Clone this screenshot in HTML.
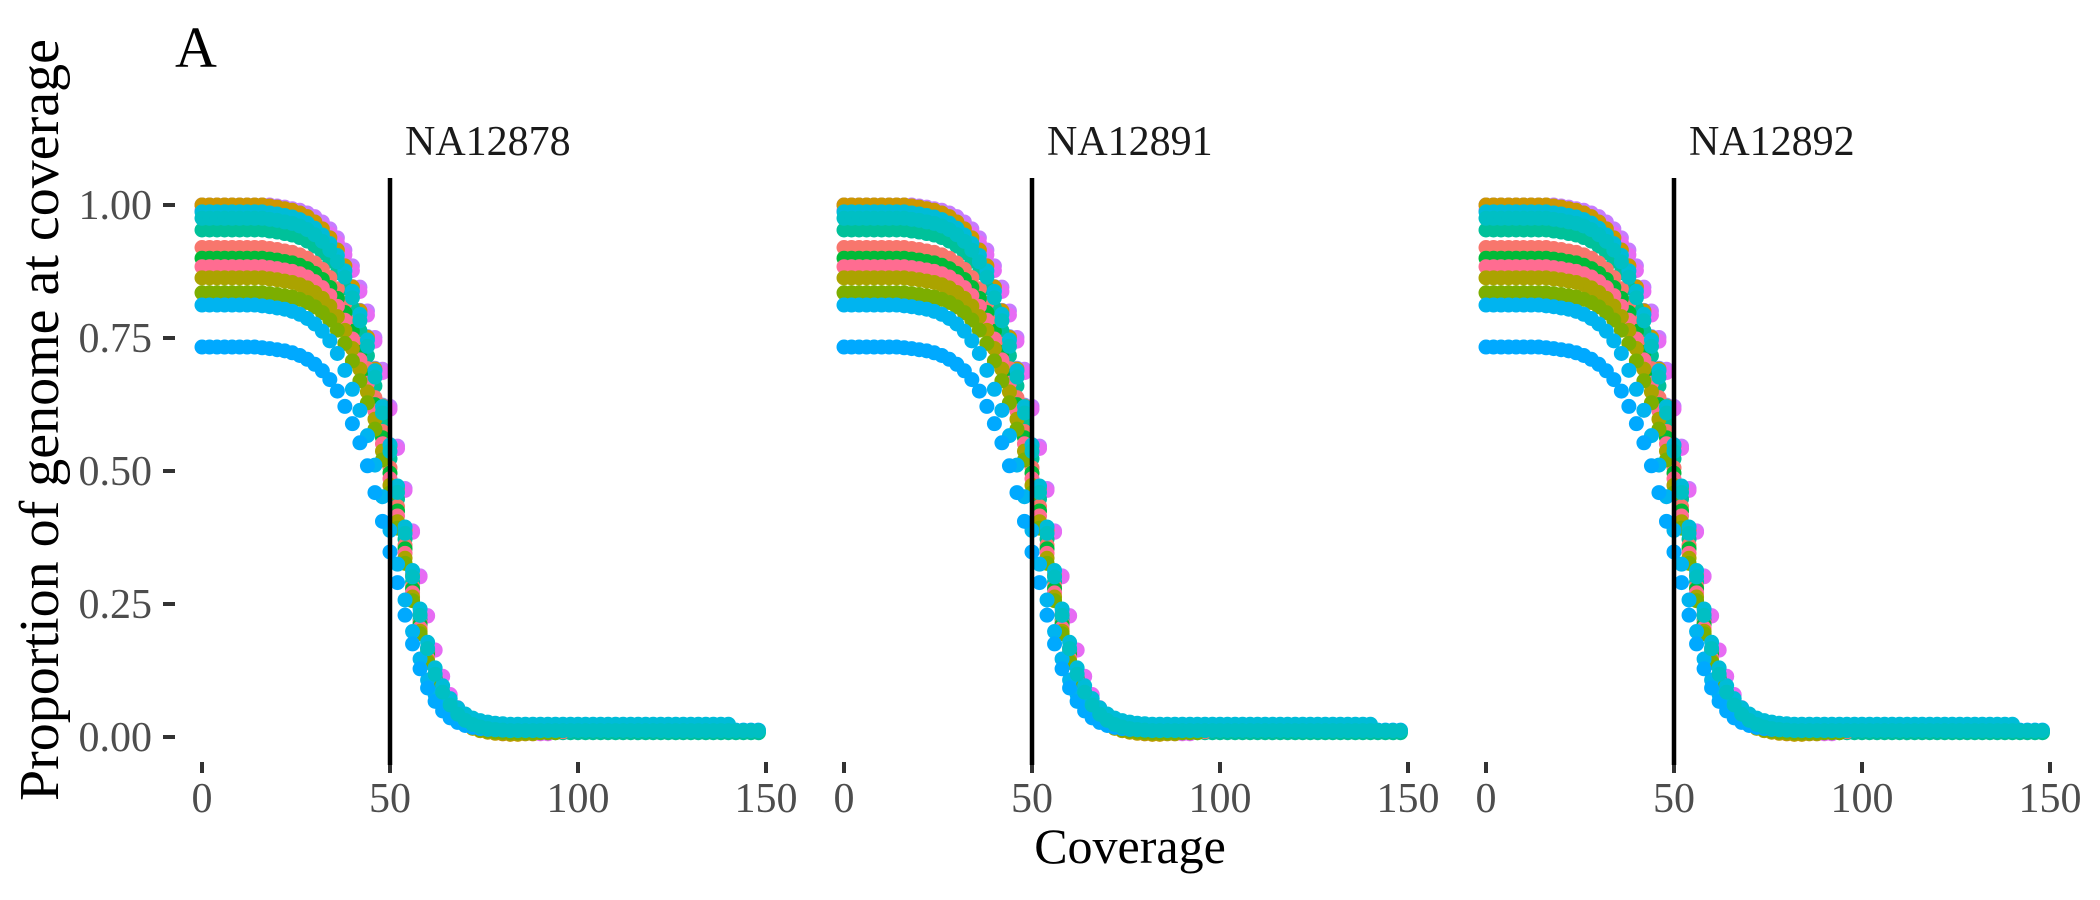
<!DOCTYPE html>
<html><head><meta charset="utf-8">
<style>
html,body{margin:0;padding:0;background:#fff;}
svg{display:block;font-family:"Liberation Serif",serif;}
</style></head>
<body>
<svg id="chart" width="2100" height="900" viewBox="0 0 2100 900">
<text x="175" y="67" font-size="58" fill="#000">A</text>
<text transform="translate(58,420) rotate(-90)" text-anchor="middle" font-size="56" fill="#000">Proportion of genome at coverage</text>
<text x="1130" y="863" text-anchor="middle" font-size="50" fill="#000">Coverage</text>
<g id="panels"></g>
</svg>
<script>
const panelNames = ["NA12878","NA12891","NA12892"];
const xTicks = [0,50,100,150];
const yTicks = [0,0.25,0.5,0.75,1.0];
const yTickLabels = ["0.00","0.25","0.50","0.75","1.00"];
const threshold = 50;
// base curve shape (fraction of plateau) at coverage 0,2,4,...,148
const coverage = [0,2,4,6,8,10,12,14,16,18,20,22,24,26,28,30,32,34,36,38,40,42,44,46,48,50,52,54,56,58,60,62,64,66,68,70,72,74,76,78,80,82,84,86,88,90,92,94,96,98,100,102,104,106,108,110,112,114,116,118,120,122,124,126,128,130,132,134,136,138,140,142,144,146,148];
const shape = [1,1,1,1,1,1,1,1,1,0.998,0.996,0.993,0.99,0.985,0.978,0.968,0.955,0.938,0.915,0.885,0.845,0.80,0.75,0.69,0.62,0.545,0.465,0.385,0.3,0.225,0.16,0.11,0.075,0.05,0.032,0.02,0.012,0.007,0.004,0.002,0.001,0,0,0,0,0,0,0,0,0,0,0,0,0,0,0,0,0,0,0,0,0,0,0,0,0,0,0,0,0,0,0,0,0,0];
const seriesColors = ["#C77CFF","#E76BF3","#8494FF","#CD9600","#00C19A","#F8766D","#00BA38","#FF6C91","#ABA300","#7CAE00","#00B4F0","#00A9FF","#00BCD8","#00BFC4"];
const seriesPlateau = [1.00,0.99,1.00,1.00,0.953,0.92,0.90,0.884,0.863,0.835,0.812,0.733,0.987,0.975];
const seriesShift = [ 1.5, 1.5, 1.0, 1.0, 0.5, 0, 0, 0, -0.5, -0.5, -1, -1.5, 0.5, 0];
const seriesTail = [0.004,0.006,0.01,0.005,0.008,0.01,0.012,0.008,0.006,0.008,0.02,0.013,0.024,0.012];
const seriesEnd = [80,92,100,84,148,96,120,90,88,94,136,148,140,148];
const panelOffsets = [0,642,1284];

const NS="http://www.w3.org/2000/svg";
const root=document.getElementById("panels");
const X0=202, XS=3.76, Y0=737, YS=532;
function xs(v,p){return X0+panelOffsets[p]+v*XS;}
function ys(v){return Y0-v*YS;}
function mk(tag,attrs,parent){const e=document.createElementNS(NS,tag);for(const k in attrs)e.setAttribute(k,attrs[k]);parent.appendChild(e);return e;}
function shapeAt(c){
  if(c<=0) return shape[0];
  const i=Math.min(shape.length-1,Math.max(0,Math.round(c/2)));
  return shape[i];
}
panelNames.forEach((name,p)=>{
  const g=mk("g",{},root);
  
  
  const st=mk("text",{x:xs(0,p)+203,y:155,"font-size":42,fill:"#1a1a1a"},g);
  st.textContent=name;
  
  
  xTicks.forEach(t=>{
    const tk=mk("line",{x1:xs(t,p),x2:xs(t,p),y1:762,y2:773,stroke:"#333","stroke-width":4},g);
    
    
    const tl=mk("text",{x:xs(t,p),y:812,"font-size":42,fill:"#4d4d4d","text-anchor":"middle"},g);
    tl.textContent=t;
    
    
  });
  if(p===0){
    yTicks.forEach((t,i)=>{
      const tk=mk("line",{x1:163,x2:175,y1:ys(t),y2:ys(t),stroke:"#333","stroke-width":4},g);
      
      
      const tl=mk("text",{x:152,y:ys(t)+14,"font-size":42,fill:"#4d4d4d","text-anchor":"end"},g);
      tl.textContent=yTickLabels[i];
      
      
    });
  }
  seriesColors.forEach((col,s)=>{
    const sg=mk("g",{fill:col},g);
    
    
    coverage.forEach((c,i)=>{
      if(c>seriesEnd[s]) return;
      const f=shapeAt(c-seriesShift[s]);
      const v=seriesPlateau[s]*f + seriesTail[s]*(1-f);
      const pt=mk("circle",{cx:xs(c,p),cy:ys(v),r:7.5},sg);
      
      
    });
  });
  const vl=mk("line",{x1:xs(threshold,p),x2:xs(threshold,p),y1:178,y2:765,stroke:"#000","stroke-width":4.5},g);
  
  
});
</script>
</body></html>
